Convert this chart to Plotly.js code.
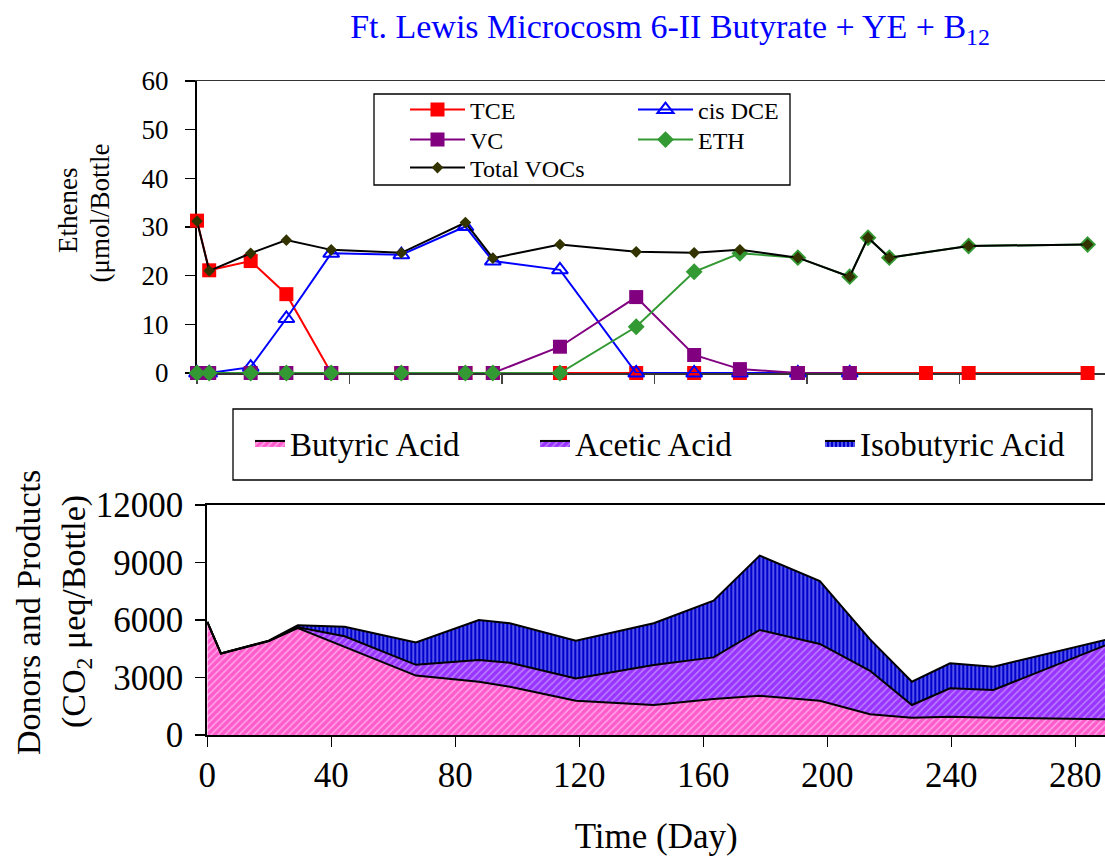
<!DOCTYPE html>
<html>
<head>
<meta charset="utf-8">
<script src="https://cdn.plot.ly/plotly-3.0.1.min.js"></script>
<style>html,body{margin:0;padding:0;background:#fff;}#chart{width:1105px;height:856px;}</style>
</head>
<body>
<div id="chart"></div>
<script>
// ---- Ethenes panel (top) ----
var days = [0, 4, 17.6, 29.3, 44, 67, 88, 97, 119, 144, 163, 178, 197, 214, 220, 227, 239, 253, 292];
var tce = [31.3, 21.1, 23.0, 16.2, 0, 0, 0, 0, 0, 0, 0, 0, 0, 0, null, null, 0, 0, 0];
var cisDCE = [0, 0, 1.2, 11.2, 24.6, 24.3, 30.1, 23.0, 21.2, 0, 0, 0, 0, 0, null, null, null, null, null];
var vc = [0, 0, 0, 0, 0, 0, 0, 0, 5.4, 15.6, 3.7, 0.8, 0, 0, null, null, null, null, null];
var eth = [0, 0, 0, 0, 0, 0, 0, 0, 0, 9.5, 20.8, 24.6, 23.7, 19.8, 27.8, 23.7, null, 26.1, 26.4];
var totalVOCs = [31.2, 21.0, 24.6, 27.3, 25.3, 24.7, 30.9, 23.6, 26.4, 24.9, 24.7, 25.3, 23.7, 19.8, 27.8, 23.7, null, 26.1, 26.4];

// ---- Donors and products panel (bottom) ----
var acidDays = [0, 4.4, 19.8, 29.2, 44.3, 67.3, 87.6, 97.6, 118.9, 144, 163.3, 178.2, 197.6, 213.8, 227.3, 239.6, 253.6, 291];
var butyric = [5900, 4250, 4900, 5580, 4600, 3100, 2780, 2520, 1790, 1565, 1880, 2050, 1790, 1080, 900, 955, 900, 815];
var acetic = [0, 0, 0, 40, 550, 560, 1130, 1250, 1160, 2085, 2170, 3430, 2960, 2270, 665, 1480, 1450, 3945];
var isobutyric = [0, 10, 20, 100, 500, 1170, 2090, 2060, 1970, 2180, 2960, 3880, 3280, 1640, 1215, 1305, 1215, 250];

var W = 1105, H = 856;
var FONT = 'Liberation Serif, Times New Roman, serif';
function px(x) { return x / W; }
function py(y) { return 1 - y / H; }

var common = {xaxis: 'x', yaxis: 'y', mode: 'lines+markers', cliponaxis: false, connectgaps: true};
var traces = [
  Object.assign({}, common, {name: 'TCE', x: days, y: tce, legend: 'legend',
    line: {color: '#FF0000', width: 2}, marker: {symbol: 'square', size: 14, color: '#FF0000'}}),
  Object.assign({}, common, {name: 'cis DCE', x: days, y: cisDCE, legend: 'legend2',
    line: {color: '#0000FF', width: 2}, marker: {symbol: 'triangle-up-open', size: 14, color: '#0000FF', line: {width: 2, color: '#0000FF'}}}),
  Object.assign({}, common, {name: 'VC', x: days, y: vc, legend: 'legend4',
    line: {color: '#800080', width: 2}, marker: {symbol: 'square', size: 14, color: '#800080'}}),
  Object.assign({}, common, {name: 'ETH', x: days, y: eth, legend: 'legend5',
    line: {color: '#339933', width: 2}, marker: {symbol: 'diamond', size: 13, color: '#339933'}}),
  Object.assign({}, common, {name: 'Total VOCs', x: days, y: totalVOCs, legend: 'legend6',
    line: {color: '#000000', width: 2}, marker: {symbol: 'diamond', size: 9, color: '#333300'}}),
  {name: 'Butyric Acid', x: acidDays, y: butyric, xaxis: 'x2', yaxis: 'y2', mode: 'lines', stackgroup: 'acids', legend: 'legend3',
    line: {color: '#000000', width: 2}, fillcolor: '#FF5CCB',
    fillpattern: {shape: '/', bgcolor: '#FF5CCB', fgcolor: '#FFA6E8', size: 5, solidity: 0.3}},
  {name: 'Acetic Acid', x: acidDays, y: acetic, xaxis: 'x2', yaxis: 'y2', mode: 'lines', stackgroup: 'acids', legend: 'legend3',
    line: {color: '#000000', width: 2}, fillcolor: '#9933FF',
    fillpattern: {shape: '/', bgcolor: '#9933FF', fgcolor: '#BB80FF', size: 5, solidity: 0.3}},
  {name: 'Isobutyric Acid', x: acidDays, y: isobutyric, xaxis: 'x2', yaxis: 'y2', mode: 'lines', stackgroup: 'acids', legend: 'legend3',
    line: {color: '#000000', width: 2}, fillcolor: '#0000CC',
    fillpattern: {shape: '|', bgcolor: '#0000CC', fgcolor: '#8C8CFF', size: 4, solidity: 0.3}}
];

var topDomainX = [px(197), 1];
var botDomainX = [px(207.3), 1];

function rowLegend(xLeft, yCenter) {
  return {x: px(xLeft), xanchor: 'left', y: py(yCenter), yanchor: 'middle', orientation: 'v', itemwidth: 55,
    bgcolor: 'rgba(0,0,0,0)', borderwidth: 0, font: {family: FONT, size: 24}};
}

var layout = {
  width: W, height: H,
  margin: {l: 0, r: 0, t: 0, b: 0},
  paper_bgcolor: '#FFFFFF', plot_bgcolor: 'rgba(0,0,0,0)',
  font: {family: FONT, color: '#000000'},
  showlegend: true,
  title: {text: 'Ft. Lewis Microcosm 6-II Butyrate + YE + B<sub>12</sub>', x: px(670), xanchor: 'center', xref: 'paper',
    y: py(26), yanchor: 'middle', yref: 'paper', font: {family: FONT, size: 34, color: '#0000FF'}},
  xaxis: {domain: topDomainX, anchor: 'y', range: [0, (1105 - 197) / 3.05], dtick: 50, tick0: 0,
    showticklabels: false, ticks: 'outside', ticklen: 9, tickwidth: 1.2, tickcolor: '#444',
    showline: true, linecolor: '#333', linewidth: 1.5, mirror: true, showgrid: false, zeroline: false, layer: 'below traces', fixedrange: true},
  xaxis3: {overlaying: 'x', anchor: 'y', range: [0, (1105 - 197) / 3.05], dtick: 50, tick0: 0,
    showticklabels: false, ticks: 'inside', ticklen: 8, tickwidth: 1.2, tickcolor: '#444',
    showline: false, showgrid: false, zeroline: false, layer: 'below traces'},
  yaxis: {domain: [py(373), py(81)], anchor: 'x', range: [0, 60], dtick: 10,
    ticks: 'outside', ticklen: 10, tickwidth: 1.5, tickcolor: '#000', ticklabelstandoff: 11,
    tickfont: {family: FONT, size: 27}, showline: true, linecolor: '#000', linewidth: 2,
    showgrid: false, zeroline: false, layer: 'below traces'},
  xaxis2: {domain: botDomainX, anchor: 'y2', range: [0, (1105 - 207.3) / 3.1], dtick: 40, tick0: 0,
    ticks: 'outside', ticklen: 10, tickwidth: 1.5, tickcolor: '#000', ticklabelstandoff: -2,
    tickfont: {family: FONT, size: 35}, showline: true, linecolor: '#000', linewidth: 2, mirror: true,
    showgrid: false, zeroline: false,
    title: {text: 'Time (Day)', font: {family: FONT, size: 35}, standoff: 37}},
  yaxis2: {domain: [py(735), py(505)], anchor: 'x2', range: [0, 12000], dtick: 3000, tickformat: 'd',
    ticks: 'outside', ticklen: 10, tickwidth: 1.5, tickcolor: '#000', ticklabelstandoff: 5,
    tickfont: {family: FONT, size: 35}, showline: true, linecolor: '#000', linewidth: 2,
    showgrid: false, zeroline: false},
  legend: rowLegend(405, 110),
  legend2: rowLegend(633, 110),
  legend4: rowLegend(405, 140),
  legend5: rowLegend(633, 140),
  legend6: rowLegend(405, 168),
  legend3: {x: px(250), xanchor: 'left', y: py(443), yanchor: 'middle', orientation: 'h', entrywidth: 240,
    traceorder: 'normal', bgcolor: 'rgba(0,0,0,0)', borderwidth: 0, font: {family: FONT, size: 33}},
  shapes: [
    {type: 'rect', xref: 'paper', yref: 'paper', x0: px(374), x1: px(790), y0: py(185), y1: py(94),
      line: {color: '#000', width: 1.3}, fillcolor: '#FFFFFF', layer: 'below'},
    {type: 'rect', xref: 'paper', yref: 'paper', x0: px(233), x1: px(1092), y0: py(480), y1: py(409),
      line: {color: '#000', width: 1.3}, fillcolor: 'rgba(0,0,0,0)', layer: 'below'}
  ],
  annotations: [
    {text: 'Ethenes', xref: 'paper', yref: 'paper', x: px(68), y: py(211), xanchor: 'center', yanchor: 'middle',
      textangle: -90, showarrow: false, font: {family: FONT, size: 27}},
    {text: '(\u03bcmol/Bottle', xref: 'paper', yref: 'paper', x: px(100), y: py(285), xanchor: 'center', yanchor: 'bottom',
      textangle: -90, showarrow: false, font: {family: FONT, size: 27}},
    {text: 'Donors and Products', xref: 'paper', yref: 'paper', x: px(28), y: py(613), xanchor: 'center', yanchor: 'middle',
      textangle: -90, showarrow: false, font: {family: FONT, size: 34}},
    {text: '(CO<sub>2</sub> \u03bceq/Bottle)', xref: 'paper', yref: 'paper', x: px(76), y: py(612), xanchor: 'center', yanchor: 'middle',
      textangle: -90, showarrow: false, font: {family: FONT, size: 34}}
  ]
};

Plotly.newPlot('chart', traces, layout, {displayModeBar: false, staticPlot: true});
</script>
</body>
</html>
